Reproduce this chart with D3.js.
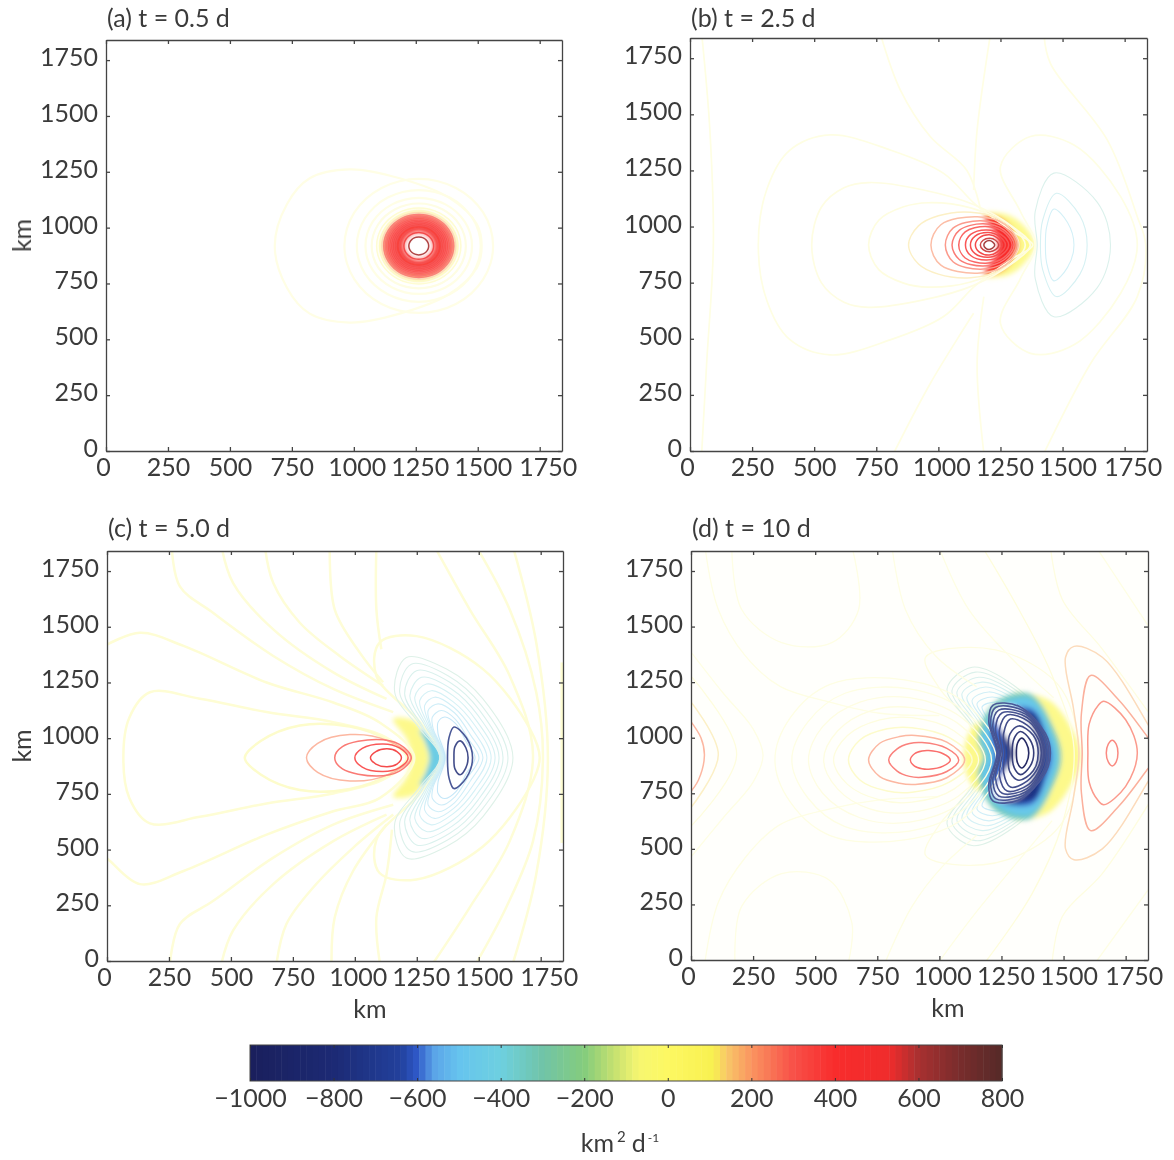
<!DOCTYPE html>
<html><head><meta charset="utf-8">
<script src="https://cdn.jsdelivr.net/npm/d3@7"></script>
<style>html,body{margin:0;background:#fff}svg{display:block}text{font-family:Lato,sans-serif;fill:#3a3a3a}</style>
</head><body><svg id="c" width="1174" height="1160"></svg>
<script>
// ---- tick labels and titles
const xyTicks = [0,250,500,750,1000,1250,1500,1750];
const barTicks = [-1000,-800,-600,-400,-200,0,200,400,600,800];
const panelTitles = ["(a) t = 0.5 d","(b) t = 2.5 d","(c) t = 5.0 d","(d) t = 10 d"];
// ---- colour bar (level -> colour)
const barLevels = [-1000,-800,-640,-600,-560,-500,-400,-300,-200,-130,-70,0,110,140,200,300,400,530,600,700,800];
const barColors = ["#1a1f5c","#1c2a74","#22409c","#2f58c8","#5aa4e8","#66c4ee","#6ed0e0","#70c4a8","#84cc7c","#c4e070","#f6f670","#fdf862","#f8f050","#f8c868","#fa9460","#f85048","#f82c2c","#f02c2c","#a83030","#782c2c","#552a28"];
// line strength at each level (reference lines are very pale at low |level|)
const alphaLevels = [-1000,-800,-600,-550,-500,-300,-100,0,100,200,300,500,800];
const alphaValues = [.95,.82,.75,.5,.34,.24,.22,.2,.3,.5,.72,.85,1];

// ---- closed contours: [level, centre y (km), [x, height above centre, ...] km], mirrored about the centre
// Panel (a)
const ringCentreA = [1262,918];
const ringRadiiA  = [300,250,215,190,170,158,148,141,134,127,120,113,106,99,92,78,60,40];
const ringLevelsA = [8,14,20,30,70,110,170,300,330,350,370,390,410,430,460,470,500,600];
const bandsA = [
 [40,918,[1110,0,1155,105,1262,155,1369,105,1414,0]],
 [340,918,[1122,0,1163,100,1262,140,1361,100,1402,0]],
 [null,918,[1205,0,1222,40,1262,58,1302,40,1319,0]]
];
const contoursA = [
 [14,918,[681,0,730,187,822,303,984,343,1185,303,1387,214,1496,98,1516,0]]
];
// Panel (b)
const bandsB = [
 [20,918,[1277,0,1250,90,1185,140,1277,135,1344,85,1387,0]],
 [400,918,[1243,0,1230,52,1196,104,1183,131,1250,116,1297,67,1320,0]]
];
const contoursB = [
 [16,918,[275,0,310,250,400,420,564,490,806,423,1021,319,1150,180,1300,60,1380,0]],
 [24,918,[490,0,530,170,620,255,720,278,940,245,1142,180,1300,80,1370,0]],
 [40,918,[719,0,760,110,860,170,960,188,1130,165,1290,85,1350,0]],
 [130,918,[880,0,920,85,1000,130,1130,146,1250,110,1325,0]],
 [220,918,[970,0,1010,90,1156,126,1270,90,1321,0]],
 [270,918,[1028,0,1060,76,1170,108,1270,76,1314,0]],
 [320,918,[1055,0,1085,66,1180,94,1265,66,1305,0]],
 [370,918,[1082,0,1108,58,1190,82,1262,58,1297,0]],
 [420,918,[1109,0,1130,47,1195,67,1252,47,1283,0]],
 [470,918,[1129,0,1148,39,1200,55,1244,39,1270,0]],
 [520,918,[1149,0,1165,32,1205,45,1236,32,1257,0]],
 [570,918,[1169,0,1180,21,1207,30,1230,21,1243,0]],
 [620,918,[1183,0,1190,14,1205,20,1218,14,1227,0]],
 [-420,918,[1431,0,1436,80,1465,160,1520,100,1546,0]],
 [-380,918,[1411,0,1420,110,1475,230,1570,130,1599,0]],
 [-320,918,[1398,0,1390,150,1465,320,1640,190,1693,0]],
 [14,918,[1390,0,1330,150,1250,349,1371,483,1546,445,1734,215,1801,0]]
];
// open contours: [level, [x, y, x, y, ...] km]
const openB = [
 [16,[47,1860,80,1430,94,918,67,390,47,-10]],
 [10,[766,1860,847,1608,968,1400,1115,1250,1170,1076]],
 [10,[820,-10,968,302,1142,614]],
 [10,[1210,1860,1156,1430,1142,1163]],
 [10,[1183,688,1156,390,1183,-10]],
 [10,[1425,1860,1451,1727,1680,1386,1801,1044,1835,918,1801,688,1613,390,1425,-10]]
];
// Panel (c)
const bandsC = [
 [20,912,[1228,0,1208,86,1154,175,1249,160,1296,56,1305,0]],
 [-430,912,[1302,0,1285,70,1262,125,1310,100,1345,40,1358,0]]
];
const contoursC = [
 [22,912,[66,0,90,180,173,294,375,265,644,205,913,160,1120,95,1215,0]],
 [60,912,[556,0,620,75,778,145,980,140,1130,80,1210,0]],
 [230,912,[805,0,850,65,980,104,1130,78,1225,0]],
 [320,912,[919,0,950,50,1087,82,1180,60,1228,0]],
 [400,912,[1000,0,1030,42,1114,62,1180,44,1215,0]],
 [500,912,[1063,0,1085,28,1130,40,1170,28,1188,0]],
 [18,912,[1350,0,1262,160,1087,368,1100,517,1249,546,1517,398,1706,131,1746,0]],
 [-280,912,[1343,0,1262,131,1161,294,1208,450,1370,398,1517,264,1638,0]],
 [-305,912,[1343,0,1269,138,1181,294,1228,420,1376,368,1511,235,1618,0]],
 [-330,912,[1345,0,1275,138,1201,287,1249,391,1383,339,1504,212,1598,0]],
 [-355,912,[1348,0,1282,146,1222,279,1269,361,1390,309,1497,190,1582,0]],
 [-380,912,[1351,0,1289,146,1242,272,1289,331,1396,279,1490,168,1566,0]],
 [-405,912,[1353,0,1296,146,1262,257,1309,301,1396,252,1484,146,1550,0]],
 [-430,912,[1356,0,1302,146,1282,235,1322,272,1399,227,1477,123,1533,0]],
 [-455,912,[1359,0,1309,138,1296,212,1336,242,1402,202,1466,104,1517,0]],
 [-480,912,[1361,0,1316,131,1313,183,1349,212,1404,175,1457,86,1501,0]],
 [-510,912,[1364,0,1336,108,1336,160,1363,183,1407,153,1450,71,1485,0]],
 [-760,912,[1374,0,1380,90,1400,138,1450,90,1475,0]],
 [-820,912,[1400,0,1404,50,1425,76,1448,45,1457,0]]
];
const openC = [
 [24,[-10,1414,133,1473,309,1414,644,1250,913,1160,1100,1070,1240,912,1100,731,913,672,644,567,309,404,133,345,12,449,-10,470]],
 [12,[261,1860,294,1681,429,1562,671,1369,913,1221,1155,1117]],
 [12,[462,1860,509,1696,671,1488,913,1295,1128,1176]],
 [12,[637,1860,671,1696,778,1518,939,1369,1114,1236]],
 [12,[899,1860,919,1577,1020,1384,1114,1251]],
 [12,[1087,1860,1087,1577,1107,1399]],
 [12,[254,-10,294,166,429,270,671,464,913,612,1155,701]],
 [12,[462,-10,509,137,671,345,913,538,1128,657]],
 [12,[684,-10,724,166,832,330,993,508,1155,657]],
 [12,[906,-10,919,196,993,404,1128,612]],
 [12,[1101,-10,1087,196,1128,390,1150,590]],
 [12,[1322,1860,1464,1577,1625,1280,1719,924,1625,538,1464,241,1316,-10]],
 [12,[1490,1860,1625,1577,1732,1206,1759,912,1719,538,1611,241,1490,-10]],
 [12,[1638,1860,1732,1429,1779,912,1732,389,1638,-10]],
 [30,[1835,1340,1835,912,1835,530]]
];
// Panel (d)
const lobesD = [
 [30,916,[1562,0,1495,297,1320,445,1118,490,944,445,997,312,1118,149,1160,0]],
 [-280,916,[1192,0,1132,134,1031,304,1132,401,1300,319,1454,134,1495,0]],
 [-310,916,[1199,0,1142,137,1051,297,1145,379,1300,304,1447,134,1488,0]],
 [-340,916,[1206,0,1152,141,1071,290,1159,356,1300,290,1441,134,1481,0]],
 [-370,916,[1212,0,1165,141,1091,282,1172,334,1300,275,1434,134,1474,0]],
 [-400,916,[1219,0,1172,149,1111,267,1185,312,1300,260,1427,134,1468,0]],
 [-430,916,[1223,0,1179,156,1132,252,1199,290,1300,245,1421,134,1461,0]],
 [-460,916,[1226,0,1185,163,1152,238,1212,267,1300,230,1414,126,1454,0]],
 [-490,916,[1228,0,1192,171,1172,223,1226,245,1306,223,1407,126,1450,0]]
];
const bandsD = [
 [20,916,[1454,0,1400,134,1300,282,1441,252,1535,119,1568,0]],
 [20,916,[1098,0,1118,104,1159,156,1179,89,1192,0]],
 [-330,916,[1176,0,1155,82,1222,240,1367,280,1470,100,1490,0]],
 [-470,916,[1190,0,1170,82,1235,225,1367,262,1458,95,1478,0]],
 [-590,916,[1219,0,1206,89,1226,193,1373,215,1434,89,1454,0]],
 [-740,916,[1266,0,1246,104,1246,200,1380,193,1421,89,1434,0]],
 [null,931,[1300,0,1250,100,1212,170,1235,210,1310,205,1370,130,1403,0]]
];
const contoursD = [
 [18,900,[338,0,400,190,560,340,860,360,1100,260,1250,0]],
 [20,900,[406,0,470,170,620,300,880,320,1100,220,1230,0]],
 [24,900,[473,0,530,150,680,260,880,280,1090,190,1210,0]],
 [30,900,[534,0,590,130,720,220,890,235,1080,160,1185,0]],
 [50,900,[574,0,630,110,760,180,890,190,1060,130,1158,0]],
 [100,900,[634,0,680,90,790,140,890,145,1040,100,1132,0]],
 [230,900,[715,0,760,75,840,105,903,110,1030,80,1102,0]],
 [300,900,[796,0,830,50,880,74,930,78,1030,52,1078,0]],
 [350,900,[883,0,900,28,930,40,957,42,1015,28,1044,0]],
 [-760,931,[1232,0,1199,141,1215,215,1320,211,1427,89,1447,0]],
 [-770,931,[1236,0,1206,134,1226,205,1333,193,1421,86,1441,0]],
 [-780,931,[1242,0,1215,126,1239,193,1347,175,1417,82,1434,0]],
 [-790,931,[1246,0,1226,111,1253,181,1353,160,1411,74,1427,0]],
 [-800,931,[1253,0,1242,104,1273,171,1360,141,1407,67,1421,0]],
 [-820,931,[1263,0,1259,89,1286,153,1353,126,1400,59,1411,0]],
 [-840,931,[1277,0,1284,85,1320,122,1378,80,1398,0]],
 [-900,931,[1293,0,1302,68,1327,97,1365,60,1380,0]],
 [-1000,931,[1310,0,1315,45,1331,67,1350,45,1360,0]],
 [290,931,[1672,0,1680,40,1696,58,1712,40,1719,0]],
 [270,931,[1598,0,1603,130,1640,215,1662,233,1750,150,1797,0]],
 [240,931,[1575,0,1572,180,1609,349,1723,238,1837,74,1885,0]],
 [170,931,[1562,0,1540,200,1508,431,1542,480,1656,431,1837,134,1900,0]]
];
const openD = [
 [230,[-10,1087,40,1000,54,920,30,810,-10,745]],
 [130,[-10,1176,110,924,-10,671]],
 [50,[-10,1290,184,924,-10,590]],
 [60,[1172,1860,1320,1577,1454,1280,1542,953,1495,612,1374,300,1185,-10]],
 [40,[1447,1860,1495,1622,1656,1399,1850,1102]],
 [40,[1850,716,1656,389,1495,196,1454,-10]],
 [14,[1630,1860,1850,1488]],
 [14,[1850,330,1630,-10]],
 [14,[997,1860,1118,1577,1293,1354,1460,1180]],
 [14,[997,-10,1145,211,1320,448,1454,627]],
 [14,[809,1860,863,1577,984,1369,1150,1230]],
 [14,[782,-10,890,241,1011,419,1150,560]],
 [14,[164,1860,204,1577,365,1428,567,1428,675,1577,648,1860]],
 [14,[177,-10,204,241,365,389,556,360,648,166,634,-10]],
 [12,[56,1860,110,1577,218,1369,360,1230,560,1160,760,1110,1000,1100]],
 [12,[56,-10,110,260,218,460,360,610,560,680,760,720,1000,735]],
 [12,[-10,1400,130,1200,250,1040,290,920,250,800,130,640,-10,450]]
];

// ---- drawing
const svg = d3.select("#c");
const defs = svg.append("defs");
[["bandBlur",2.6],["lineBlur",.5],["textBlur",.3]].forEach(([id,s])=>{
  defs.append("filter").attr("id",id).attr("x","-20%").attr("y","-20%").attr("width","140%").attr("height","140%")
    .append("feGaussianBlur").attr("stdDeviation",s);
});
const colour = d3.scaleLinear().domain(barLevels).range(barColors).clamp(true);
const alpha = d3.scaleLinear().domain(alphaLevels).range(alphaValues).clamp(true);
const paleWidths = [2.2,1.7,2.5,1.3];
const paleGain = [.75,.8,1.2,.8];
const labelShift = [-3,0,0,0,3,4,5,8];

const panels = [
 {l:106,r:562,t:40,b:451,titleY:27,bands:bandsA,closed:contoursA,open:[],under:[],bg:"#fff"},
 {l:690,r:1147,t:38,b:451,titleY:27,bands:bandsB,closed:contoursB,open:openB,under:[],bg:"#fff"},
 {l:107,r:563,t:551,b:961,titleY:537,bands:bandsC,closed:contoursC,open:openC,under:[],bg:"#fff"},
 {l:691,r:1148,t:551,b:960,titleY:537,bands:bandsD,closed:contoursD,open:openD,under:lobesD,bg:"#fffffc"}
];
const fs = 25;
const styleText = s=>s.attr("font-size",fs).attr("font-family","Lato,sans-serif").attr("fill","#3a3a3a").attr("filter","url(#textBlur)");
panels.forEach((p,i)=>{
  const lineWidth = v => Math.abs(v)<70 ? paleWidths[i] : (v<-750 ? 1.6 : (v<0 ? 1.1 : 1.5));
  const lineColour = v => d3.interpolateRgb("#ffffff",colour(v))(alpha(v)*(Math.abs(v)<70?paleGain[i]:1));
  const x = d3.scaleLinear().domain([0,1840]).range([p.l,p.r]);
  const y = d3.scaleLinear().domain([0,1840]).range([p.b,p.t]);
  const g = svg.append("g");
  const cid = "clip"+i;
  defs.append("clipPath").attr("id",cid).append("rect")
    .attr("x",p.l).attr("y",p.t).attr("width",p.r-p.l).attr("height",p.b-p.t);
  g.append("rect").attr("x",p.l).attr("y",p.t).attr("width",p.r-p.l).attr("height",p.b-p.t).attr("fill",p.bg);
  const closedLine = d3.line().x(d=>x(d[0])).y(d=>y(d[1])).curve(d3.curveCatmullRomClosed.alpha(.5));
  const openLine = d3.line().x(d=>x(d[0])).y(d=>y(d[1])).curve(d3.curveCatmullRom.alpha(.5));
  const mirrored = ([lv,yc,f])=>{
    const up=[],dn=[];
    for(let k=0;k<f.length;k+=2){
      up.push([f[k],yc+f[k+1]]);
      if(f[k+1]!==0) dn.unshift([f[k],yc-f[k+1]]);
    }
    return up.concat(dn);
  };
  const pairs = f=>d3.range(0,f.length,2).map(k=>[f[k],f[k+1]]);
  const clip = g.append("g").attr("clip-path",`url(#${cid})`);
  clip.append("g").attr("filter","url(#lineBlur)").attr("fill","none").selectAll("path").data(p.under).join("path")
    .attr("d",d=>closedLine(mirrored(d)))
    .attr("stroke",d=>lineColour(d[0])).attr("stroke-width",d=>lineWidth(d[0]));
  clip.append("g").attr("filter","url(#bandBlur)").selectAll("path").data(p.bands).join("path")
    .attr("d",d=>closedLine(mirrored(d)))
    .attr("fill",d=>d[0]===null?"#ffffff":colour(d[0]))
    .attr("fill-opacity",d=>d[0]!==null&&Math.abs(d[0])<60?.72:1);
  const lines = clip.append("g").attr("filter","url(#lineBlur)").attr("fill","none");
  lines.selectAll("path.o").data(p.open).join("path").attr("class","o")
    .attr("d",d=>openLine(pairs(d[1])))
    .attr("stroke",d=>lineColour(d[0])).attr("stroke-width",d=>lineWidth(d[0]));
  lines.selectAll("path.c").data(p.closed).join("path").attr("class","c")
    .attr("d",d=>closedLine(mirrored(d)))
    .attr("stroke",d=>lineColour(d[0])).attr("stroke-width",d=>lineWidth(d[0]));
  if(i===0){
    const ang = d3.range(0,2*Math.PI,Math.PI/12);
    lines.selectAll("path.r").data(ringRadiiA).join("path").attr("class","r")
      .attr("d",r=>closedLine(ang.map(a=>[ringCentreA[0]+r*Math.cos(a),ringCentreA[1]+r*Math.sin(a)])))
      .attr("stroke",(r,k)=>lineColour(ringLevelsA[k]))
      .attr("stroke-width",(r,k)=>lineWidth(ringLevelsA[k]));
  }
  // axes: inward ticks on all four sides, labels left and bottom only
  const ax = g.append("g");
  const style = s=>{s.selectAll("path,line").attr("stroke","#444").attr("stroke-width",1.3);};
  const tl = 4;
  const fmt = d3.format("d");
  const bottom = ax.append("g").attr("transform",`translate(0,${p.b})`)
    .call(d3.axisBottom(x).tickValues(xyTicks).tickSizeInner(-tl).tickSizeOuter(0).tickPadding(7).tickFormat(fmt)).call(style);
  ax.append("g").attr("transform",`translate(0,${p.t})`)
    .call(d3.axisTop(x).tickValues(xyTicks).tickSizeInner(-tl).tickSizeOuter(0).tickFormat("")).call(style);
  const left = ax.append("g").attr("transform",`translate(${p.l},0)`)
    .call(d3.axisLeft(y).tickValues(xyTicks).tickSizeInner(-tl).tickSizeOuter(0).tickPadding(8).tickFormat(fmt)).call(style);
  ax.append("g").attr("transform",`translate(${p.r},0)`)
    .call(d3.axisRight(y).tickValues(xyTicks).tickSizeInner(-tl).tickSizeOuter(0).tickFormat("")).call(style);
  ax.selectAll("text").call(styleText);
  bottom.selectAll("g.tick text").attr("dx",(d,k)=>labelShift[k]);
  left.selectAll("g.tick text").attr("dy","0.22em");
  g.append("text").attr("x",p.l+1).attr("y",p.titleY).call(styleText).text(panelTitles[i]);
  if(i===0||i===2) g.append("text").attr("transform",`translate(31,${(p.t+p.b)/2-10}) rotate(-90)`).attr("text-anchor","middle").call(styleText).text("km");
  if(i>=2) g.append("text").attr("x",i===3?948:370).attr("y",p.b+57).attr("text-anchor","middle").call(styleText).text("km");
});

// colour bar
const bx = d3.scaleLinear().domain([-1000,800]).range([250,1002]);
const bar = svg.append("g");
const steps = d3.range(-1000,800,15);
bar.append("g").selectAll("rect").data(steps).join("rect")
  .attr("x",d=>bx(d)).attr("width",d=>bx(d+15)-bx(d)+.5).attr("y",1045).attr("height",36).attr("fill",d=>colour(d+7.5));
bar.append("rect").attr("x",250).attr("y",1045).attr("width",752).attr("height",36).attr("fill","none").attr("stroke","#444").attr("stroke-width",1);
const barStyle = s=>{s.select("path").attr("stroke","none");s.selectAll("line").attr("stroke","#333").attr("stroke-width",1);};
bar.append("g").attr("transform","translate(0,1081)")
  .call(d3.axisBottom(bx).tickValues(barTicks).tickSizeInner(-3).tickSizeOuter(0).tickPadding(8).tickFormat(d=>String(d).replace("-","\u2212"))).call(barStyle)
  .selectAll("text").call(styleText);
bar.append("g").attr("transform","translate(0,1045)")
  .call(d3.axisTop(bx).tickValues(barTicks).tickSizeInner(-3).tickSizeOuter(0).tickFormat("")).call(barStyle);
const unit = svg.append("text").attr("x",620).attr("y",1152).attr("text-anchor","middle").call(styleText);
unit.append("tspan").text("km");
unit.append("tspan").attr("dy",-10).attr("dx",3).attr("font-size",15).text("2");
unit.append("tspan").attr("dy",10).attr("dx",6).text("d");
unit.append("tspan").attr("dy",-10).attr("dx",2).attr("font-size",12).text("-1");
</script></body></html>
